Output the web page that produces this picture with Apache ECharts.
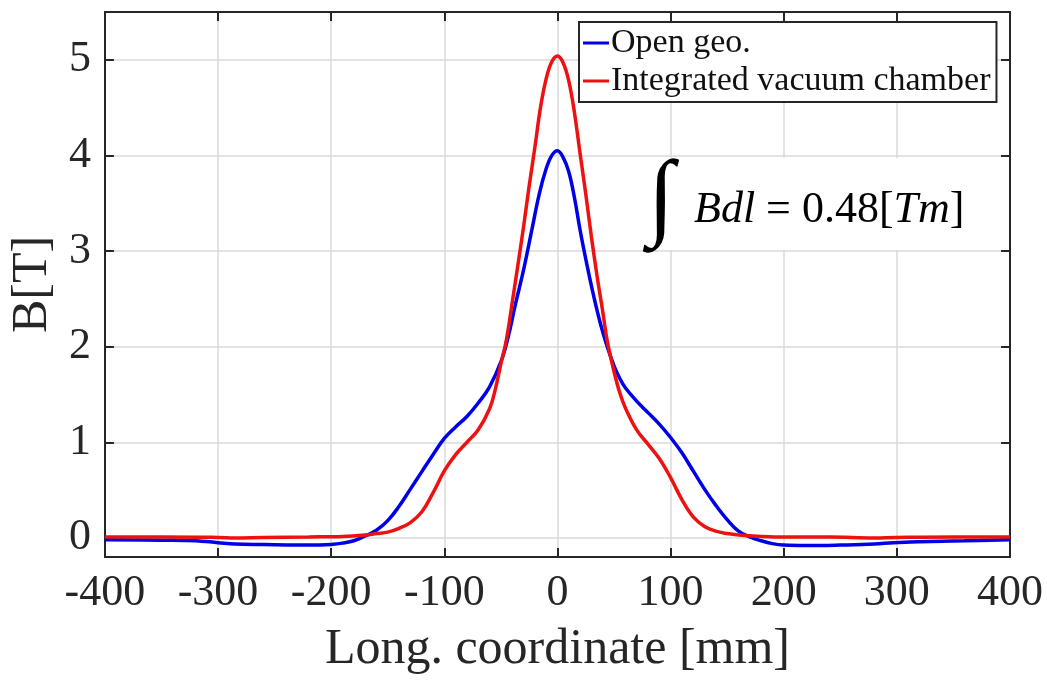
<!DOCTYPE html>
<html>
<head>
<meta charset="utf-8">
<script src="https://cdn.jsdelivr.net/npm/echarts@6/dist/echarts.min.js"></script>
<style>
html,body{margin:0;padding:0;background:#fff;}
#chart{width:1047px;height:680px;}
</style>
</head>
<body>
<div id="chart"></div>
<script>
// ---- data ----
var seriesNames = ['Open geo.', 'Integrated vacuum chamber'];
var xTicks = [-400, -300, -200, -100, 0, 100, 200, 300, 400];
var yTicks = [0, 1, 2, 3, 4, 5];

var openGeo = [
  [-400,-0.02],[-350,-0.025],[-320,-0.03],[-300,-0.05],[-285,-0.065],[-260,-0.07],
  [-230,-0.075],[-210,-0.075],[-200,-0.07],[-190,-0.055],[-180,-0.03],[-170,0.02],
  [-160,0.08],[-150,0.18],[-140,0.33],[-130,0.51],[-120,0.69],[-110,0.87],[-100,1.04],
  [-90,1.16],[-80,1.27],[-70,1.41],[-60,1.58],[-50,1.84],[-44,2.08],[-37,2.45],
  [-30,2.8],[-23,3.2],[-16,3.6],[-10,3.86],[-5,4.0],[0,4.05],[5,3.98],[10,3.83],
  [15,3.56],[20,3.22],[26,2.86],[32,2.53],[38,2.24],[44,2.0],[50,1.8],[55,1.67],
  [60,1.57],[70,1.43],[80,1.31],[90,1.19],[100,1.05],[110,0.89],[120,0.7],[130,0.51],
  [140,0.34],[150,0.19],[160,0.07],[170,0.01],[180,-0.03],[190,-0.06],[200,-0.075],
  [220,-0.08],[250,-0.075],[280,-0.065],[297,-0.05],[320,-0.04],[360,-0.03],[400,-0.02]
];
var vacuumChamber = [
  [-400,0.01],[-350,0.01],[-300,0.005],[-285,0.0],[-260,0.005],[-220,0.01],
  [-190,0.015],[-170,0.03],[-160,0.045],[-150,0.06],[-140,0.1],[-130,0.16],[-120,0.27],
  [-110,0.47],[-100,0.7],[-90,0.87],[-80,1.0],[-70,1.13],[-60,1.35],[-55,1.55],
  [-50,1.82],[-45,2.08],[-40,2.46],[-35,2.85],[-30,3.25],[-25,3.68],[-20,4.08],
  [-15,4.5],[-10,4.8],[-5,4.98],[0,5.04],[5,4.97],[10,4.78],[15,4.45],[20,4.02],
  [25,3.6],[30,3.15],[35,2.74],[40,2.37],[44,2.06],[50,1.74],[55,1.52],[60,1.36],
  [70,1.13],[80,0.98],[90,0.83],[100,0.63],[110,0.4],[120,0.22],[130,0.12],[140,0.07],
  [150,0.045],[160,0.03],[180,0.015],[200,0.008],[240,0.01],[280,0.0],[300,0.005],
  [350,0.01],[400,0.01]
];

var axisColor = '#262626';
var gridColor = '#dadada';
var serif = '"Liberation Serif", "Times New Roman", serif';

var chart = echarts.init(document.getElementById('chart'), null, {renderer: 'canvas'});

function xAxisDef(pos, showLabels) {
  return {
    type: 'value', position: pos, min: -400, max: 400, interval: 100,
    axisLine: {show: true, onZero: false, lineStyle: {color: axisColor, width: 2}},
    axisTick: {show: true, inside: true, length: 9, lineStyle: {color: axisColor, width: 2}},
    axisLabel: {show: showLabels, fontFamily: serif, fontSize: 44, color: '#262626', margin: 14,
      formatter: function(v){ return String(v); }},
    splitLine: {show: showLabels, lineStyle: {color: gridColor, width: 1.5}},
    name: showLabels ? 'Long. coordinate [mm]' : '',
    nameLocation: 'middle', nameGap: 68,
    nameTextStyle: {fontFamily: serif, fontSize: 50, color: '#262626'}
  };
}
function yAxisDef(pos, showLabels) {
  return {
    type: 'value', position: pos, min: -0.2, max: 5.5,
    axisLine: {show: true, onZero: false, lineStyle: {color: axisColor, width: 2}},
    axisTick: {show: true, inside: true, length: 9, customValues: yTicks, lineStyle: {color: axisColor, width: 2}},
    axisLabel: {show: showLabels, customValues: yTicks, fontFamily: serif, fontSize: 44, color: '#262626', margin: 14},
    splitLine: {show: showLabels, lineStyle: {color: gridColor, width: 1.5}},
    name: showLabels ? 'B[T]' : '',
    nameLocation: 'middle', nameGap: 42,
    nameTextStyle: {fontFamily: serif, fontSize: 50, color: '#262626'}
  };
}

var option = {
  backgroundColor: '#fff',
  animation: false,
  grid: {left: 97, right: 37, top: 12, bottom: 121, containLabel: false},
  xAxis: [xAxisDef('bottom', true), xAxisDef('top', false)],
  yAxis: [yAxisDef('left', true), yAxisDef('right', false)],
  legend: {
    orient: 'vertical', left: 579, top: 22,
    data: seriesNames,
    backgroundColor: '#fff', borderColor: axisColor, borderWidth: 2,
    padding: [3, 6, 3, 4], itemGap: 2, itemWidth: 26, itemHeight: 3,
    icon: 'rect',
    textStyle: {fontFamily: serif, fontSize: 34, color: '#111', lineHeight: 36, padding: [0,0,0,-3]}
  },
  series: [
    {name: seriesNames[0], type: 'line', data: openGeo, smooth: 0.4, showSymbol: false,
     lineStyle: {color: '#0000e8', width: 3.5}, itemStyle: {color: '#0000e8'}, z: 3},
    {name: seriesNames[1], type: 'line', data: vacuumChamber, smooth: 0.4, showSymbol: false,
     lineStyle: {color: '#ee1111', width: 3.5}, itemStyle: {color: '#ee1111'}, z: 4}
  ],
  graphic: [
    {type: 'rect', left: 645, top: 158, shape: {width: 325, height: 92}, style: {fill: '#fff'}, z: 5},
    {type: 'text', left: 648, top: 154, z: 6,
     style: {text: '\u222B', fontFamily: serif, fontStyle: 'italic', fontSize: 96, fill: '#000'}},
    {type: 'text', left: 694, top: 188, z: 6,
     style: {
       text: '{i|Bdl} = 0.48[{i|Tm}]',
       fontFamily: serif, fontSize: 44, fill: '#000',
       rich: {i: {fontFamily: serif, fontStyle: 'italic', fontSize: 44, fill: '#000'}}
     }}
  ]
};
chart.setOption(option);
</script>
</body>
</html>
